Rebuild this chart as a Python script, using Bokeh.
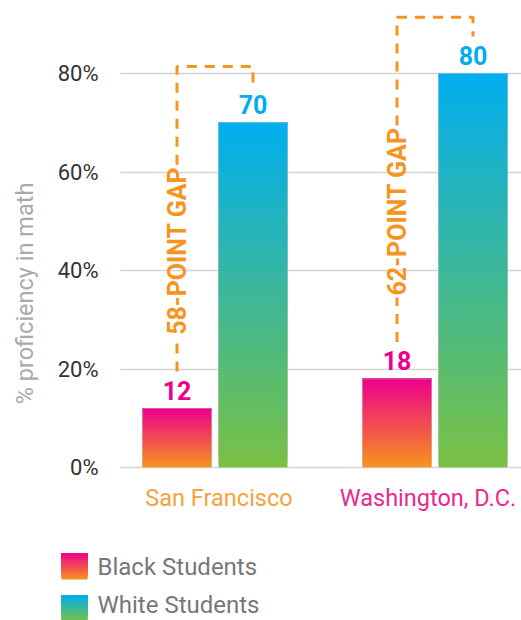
import numpy as np
from bokeh.plotting import figure
from bokeh.models import Range1d, FixedTicker
from bokeh.core.properties import value
from bokeh.embed import file_html
from bokeh.resources import INLINE

# ---------------- data ----------------
cities = ["San Francisco", "Washington, D.C."]
groups = ["Black Students", "White Students"]
black = [12, 18]
white = [70, 80]
y_ticks = [0, 20, 40, 60, 80]
y_tick_labels = ["0%", "20%", "40%", "60%", "80%"]
y_label = "% proficiency in math"

# ---------------- styles ----------------
W, H = 521, 620
FONT = value("Roboto")
BLACK_TOP, BLACK_BOT = (236, 0, 140), (247, 148, 29)
WHITE_TOP, WHITE_BOT = (0, 174, 239), (122, 193, 67)
GAP_COLOR = "#F7941D"
CITY_COLORS = ["#F6A23E", "#EC2890"]
CITY_XOFF = [4, -7]

# pixel geometry helpers (figure pixel space -> data space)
PX_X = 76.0                 # pixels per x unit (one bar slot)
X0_PX = 176.5               # pixel x of first bar centre
BASE_PX = 467.0             # pixel y of the 0% baseline
PX_Y = 394.0 / 80.0         # pixels per percentage point
def fx(px):
    return (px - X0_PX) / PX_X
def fy(py):
    return (BASE_PX - py) / PX_Y

GROUP_STEP = 220.0 / PX_X
BAR_W = 69.0 / PX_X

p = figure(width=W, height=H, output_backend="svg", toolbar_location=None,
           x_range=Range1d(fx(0), fx(W)), y_range=Range1d(fy(H), fy(0)),
           x_axis_location=None, min_border=0,
           min_border_left=0, min_border_right=0, min_border_top=0, min_border_bottom=0)
p.outline_line_color = None
p.background_fill_color = "white"
p.xgrid.visible = False

axis_x = fx(120)
p.yaxis.fixed_location = axis_x
p.yaxis.ticker = FixedTicker(ticks=y_ticks)
p.yaxis.major_label_overrides = {t: l for t, l in zip(y_ticks, y_tick_labels)}
p.yaxis.axis_line_color = None
p.yaxis.major_tick_line_color = None
p.yaxis.minor_tick_line_color = None
p.yaxis.major_label_standoff = 16
p.yaxis.major_label_text_font = "Roboto"
p.yaxis.major_label_text_font_size = "22px"
p.yaxis.major_label_text_color = "#333333"

p.ygrid.ticker = FixedTicker(ticks=y_ticks)
p.ygrid.grid_line_color = "#d4d4d4"
p.ygrid.grid_line_width = 1.5
if "cross_bounds" in p.ygrid[0].properties():
    p.ygrid[0].cross_bounds = (axis_x, fx(W))


def lerp(c0, c1, t):
    return "#%02x%02x%02x" % tuple(int(round(a + (b - a) * t)) for a, b in zip(c0, c1))


def gradient(lefts, rights, y0s, y1s, c_bot, c_top, n=80):
    L, R, B, T, C = [], [], [], [], []
    for l, r, y0, y1 in zip(lefts, rights, y0s, y1s):
        for i in range(n):
            L.append(l); R.append(r)
            B.append(y0 + (y1 - y0) * i / n); T.append(y1)
            C.append(lerp(c_bot, c_top, (i + 0.5) / n))
    p.quad(left=L, right=R, bottom=B, top=T, fill_color=C, line_color=None)


xb = [i * GROUP_STEP for i in range(len(cities))]
xw = [i * GROUP_STEP + 1 for i in range(len(cities))]

gradient([x - BAR_W / 2 for x in xb], [x + BAR_W / 2 for x in xb],
         [0] * len(black), black, BLACK_BOT, BLACK_TOP)
gradient([x - BAR_W / 2 for x in xw], [x + BAR_W / 2 for x in xw],
         [0] * len(white), white, WHITE_BOT, WHITE_TOP)
p.vbar(x=xb + xw, top=black + white, width=BAR_W, fill_color=None,
       line_color="#cccccc", line_alpha=0.5, line_width=1)

# value labels
pad = 18.0 / PX_Y
p.text(x=xb, y=[v + pad for v in black], text=[str(v) for v in black],
       text_font=FONT, text_font_style="bold", text_font_size="25px",
       text_color="#EC008C", text_align="center", text_baseline="middle")
p.text(x=xw, y=[v + pad for v in white], text=[str(v) for v in white],
       text_font=FONT, text_font_style="bold", text_font_size="25px",
       text_color="#00AEEF", text_align="center", text_baseline="middle")

# gap brackets
low_off, top_off, half_gap = 7.5, 11.4, 86.0 / PX_Y
xs, ys, tx, ty, tt = [], [], [], [], []
for b, w, x1, x2 in zip(black, white, xb, xw):
    mid = (b + w) / 2 + 3
    xs.append([x1, x1]); ys.append([b + low_off, mid - half_gap])
    xs.append([x1, x1, x2, x2]); ys.append([mid + half_gap, w + top_off, w + top_off, w + low_off])
    tx.append(x1); ty.append(mid); tt.append(f"{w - b}-POINT GAP")
p.multi_line(xs=xs, ys=ys, line_color=GAP_COLOR, line_width=3, line_dash="10 8")
p.text(x=tx, y=ty, text=tt, angle=np.pi / 2, text_font=FONT, text_font_style="bold",
       text_font_size="25px", text_color=GAP_COLOR, text_align="center", text_baseline="middle")

# category labels
for i, (c, col, off) in enumerate(zip(cities, CITY_COLORS, CITY_XOFF)):
    p.text(x=[i * GROUP_STEP + 0.5], y=[fy(497)], text=[c], x_offset=off,
           text_font=FONT, text_font_size="23.5px", text_color=col,
           text_align="center", text_baseline="middle")

# y axis label
p.text(x=[fx(24)], y=[fy(293)], text=[y_label], angle=np.pi / 2,
       text_font=FONT, text_font_size="23.5px", text_color="#aaaaaa",
       text_align="center", text_baseline="middle")

# legend
sw_l, sw_r = fx(61), fx(87)
leg_tops = [553, 595]
leg_text_y = [566, 604]
for g, top_px, ty_px, (cb, ct) in zip(groups, leg_tops, leg_text_y,
                                     [(BLACK_BOT, BLACK_TOP), (WHITE_BOT, WHITE_TOP)]):
    gradient([sw_l], [sw_r], [fy(top_px + 26)], [fy(top_px)], cb, ct, n=20)
    p.text(x=[fx(97)], y=[fy(ty_px)], text=[g], text_font=FONT, text_font_size="24px",
           text_color="#777777", text_align="left", text_baseline="middle")

open("out.html", "w").write(file_html(p, INLINE))
